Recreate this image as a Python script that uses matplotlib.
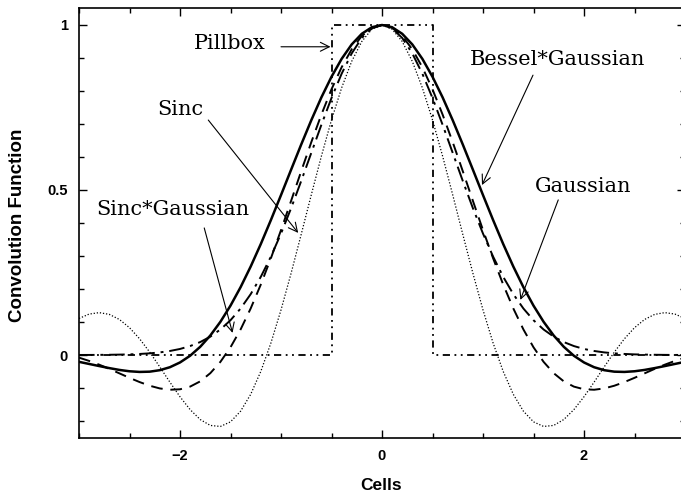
import numpy as np
import matplotlib
matplotlib.use("Agg")
import matplotlib.pyplot as plt
from matplotlib.ticker import MultipleLocator

# sample positions (cells) and curve values
cells = np.linspace(-3, 3, 61)

sinc = [0.1107, 0.1240, 0.1284, 0.1231, 0.1077, 0.0827, 0.0491, 0.0087, -0.0361, -0.0823,
        -0.1265, -0.1654, -0.1955, -0.2134, -0.2165, -0.2026, -0.1702, -0.1191, -0.0498, 0.0363,
        0.1365, 0.2477, 0.3655, 0.4855, 0.6027, 0.7123, 0.8093, 0.8899, 0.9501, 0.9874,
        1.0000,
        0.9874, 0.9501, 0.8899, 0.8093, 0.7123, 0.6027, 0.4855, 0.3655, 0.2477, 0.1365,
        0.0363, -0.0498, -0.1191, -0.1702, -0.2026, -0.2165, -0.2134, -0.1955, -0.1654, -0.1265,
        -0.0823, -0.0361, 0.0087, 0.0491, 0.0827, 0.1077, 0.1231, 0.1284, 0.1240, 0.1107]

sinc_gauss = [-0.0080, -0.0179, -0.0293, -0.0420, -0.0556, -0.0692, -0.0820, -0.0931, -0.1013, -0.1053,
              -0.1039, -0.0958, -0.0799, -0.0551, -0.0208, 0.0234, 0.0775, 0.1412, 0.2135, 0.2932,
              0.3784, 0.4671, 0.5569, 0.6450, 0.7286, 0.8052, 0.8717, 0.9264, 0.9668, 0.9916,
              1.0000,
              0.9916, 0.9668, 0.9264, 0.8717, 0.8052, 0.7286, 0.6450, 0.5569, 0.4671, 0.3784,
              0.2932, 0.2135, 0.1412, 0.0775, 0.0234, -0.0208, -0.0551, -0.0799, -0.0958, -0.1039,
              -0.1053, -0.1013, -0.0931, -0.0820, -0.0692, -0.0556, -0.0420, -0.0293, -0.0179, -0.0080]

gauss = [0.0001, 0.0002, 0.0004, 0.0007, 0.0012, 0.0019, 0.0032, 0.0050, 0.0079, 0.0122,
         0.0183, 0.0271, 0.0392, 0.0556, 0.0773, 0.1054, 0.1409, 0.1845, 0.2369, 0.2982,
         0.3679, 0.4449, 0.5273, 0.6126, 0.6977, 0.7788, 0.8521, 0.9139, 0.9608, 0.9900,
         1.0000,
         0.9900, 0.9608, 0.9139, 0.8521, 0.7788, 0.6977, 0.6126, 0.5273, 0.4449, 0.3679,
         0.2982, 0.2369, 0.1845, 0.1409, 0.1054, 0.0773, 0.0556, 0.0392, 0.0271, 0.0183,
         0.0122, 0.0079, 0.0050, 0.0032, 0.0019, 0.0012, 0.0007, 0.0004, 0.0002, 0.0001]

bessel_gauss = [-0.0207, -0.0271, -0.0335, -0.0397, -0.0452, -0.0493, -0.0513, -0.0505, -0.0460, -0.0370,
                -0.0226, -0.0023, 0.0248, 0.0590, 0.1006, 0.1496, 0.2056, 0.2682, 0.3363, 0.4090,
                0.4846, 0.5615, 0.6378, 0.7115, 0.7807, 0.8431, 0.8972, 0.9411, 0.9734, 0.9933,
                1.0000,
                0.9933, 0.9734, 0.9411, 0.8972, 0.8431, 0.7807, 0.7115, 0.6378, 0.5615, 0.4846,
                0.4090, 0.3363, 0.2682, 0.2056, 0.1496, 0.1006, 0.0590, 0.0248, -0.0023, -0.0226,
                -0.0370, -0.0460, -0.0505, -0.0513, -0.0493, -0.0452, -0.0397, -0.0335, -0.0271, -0.0207]

pill_x = [-3, -0.5, -0.5, 0.5, 0.5, 3]
pill_y = [0, 0, 1, 1, 0, 0]

xtick_vals = [-2, 0, 2]
xtick_labels = ['\u22122', '0', '2']
ytick_vals = [0, 0.5, 1]
ytick_labels = ['0', '0.5', '1']

fig = plt.figure(figsize=(6.81, 4.94), dpi=100)
ax = fig.add_axes([79/681, 56/494, 606/681, 430/494])

ax.plot(cells, bessel_gauss, color='black', lw=1.8, ls='-')
ax.plot(cells, sinc_gauss, color='black', lw=1.4, ls=(0, (6, 4)))
ax.plot(cells, gauss, color='black', lw=1.4, ls=(0, (8, 3, 1.5, 3)))
ax.plot(cells, sinc, color='black', lw=0.9, ls=(0, (1, 1.5)))
ax.plot(pill_x, pill_y, color='black', lw=1.3, ls=(0, (4, 2.5, 1, 2.5, 1, 2.5)))

ax.set_xlim(-3, 3)
ax.set_ylim(-0.2515, 1.0515)

ax.set_xticks(xtick_vals)
ax.set_xticklabels(xtick_labels)
ax.set_yticks(ytick_vals)
ax.set_yticklabels(ytick_labels)
ax.xaxis.set_minor_locator(MultipleLocator(0.5))
ax.yaxis.set_minor_locator(MultipleLocator(0.1))
ax.tick_params(which='both', direction='in', top=True, right=True, width=1.0)
ax.tick_params(which='major', length=6, pad=8)
ax.tick_params(which='minor', length=3.5)
for lab in ax.get_xticklabels() + ax.get_yticklabels():
    lab.set_fontfamily('Liberation Sans')
    lab.set_fontweight('bold')
    lab.set_fontsize(10.5)
for sp in ax.spines.values():
    sp.set_linewidth(1.2)

fig.text(18/681, 1 - 225/494, 'Convolution Function', rotation=90, ha='center', va='center',
         family='Liberation Sans', weight='bold', fontsize=13.5)
fig.text(381/681, 1 - 485/494, 'Cells', ha='center', va='center',
         family='Liberation Sans', weight='bold', fontsize=12.5)

# labels and arrows
tfont = dict(family='DejaVu Serif', fontsize=15, ha='center', va='center')
arrow = dict(arrowstyle='->', color='black', lw=0.8, mutation_scale=16, shrinkA=0, shrinkB=0)

ax.text(-1.51, 0.945, 'Pillbox', **tfont)
ax.annotate('', xy=(-0.51, 0.934), xytext=(-1.0, 0.934), arrowprops=arrow)

ax.text(-2.0, 0.745, 'Sinc', **tfont)
ax.annotate('', xy=(-0.83, 0.37), xytext=(-1.72, 0.712), arrowprops=arrow)

ax.text(-2.07, 0.44, 'Sinc*Gaussian', **tfont)
ax.annotate('', xy=(-1.48, 0.067), xytext=(-1.76, 0.385), arrowprops=arrow)

ax.text(1.74, 0.895, 'Bessel*Gaussian', **tfont)
ax.annotate('', xy=(0.99, 0.515), xytext=(1.495, 0.848), arrowprops=arrow)

ax.text(1.99, 0.512, 'Gaussian', **tfont)
ax.annotate('', xy=(1.37, 0.167), xytext=(1.745, 0.47), arrowprops=arrow)

plt.savefig('out.png', dpi=100)
